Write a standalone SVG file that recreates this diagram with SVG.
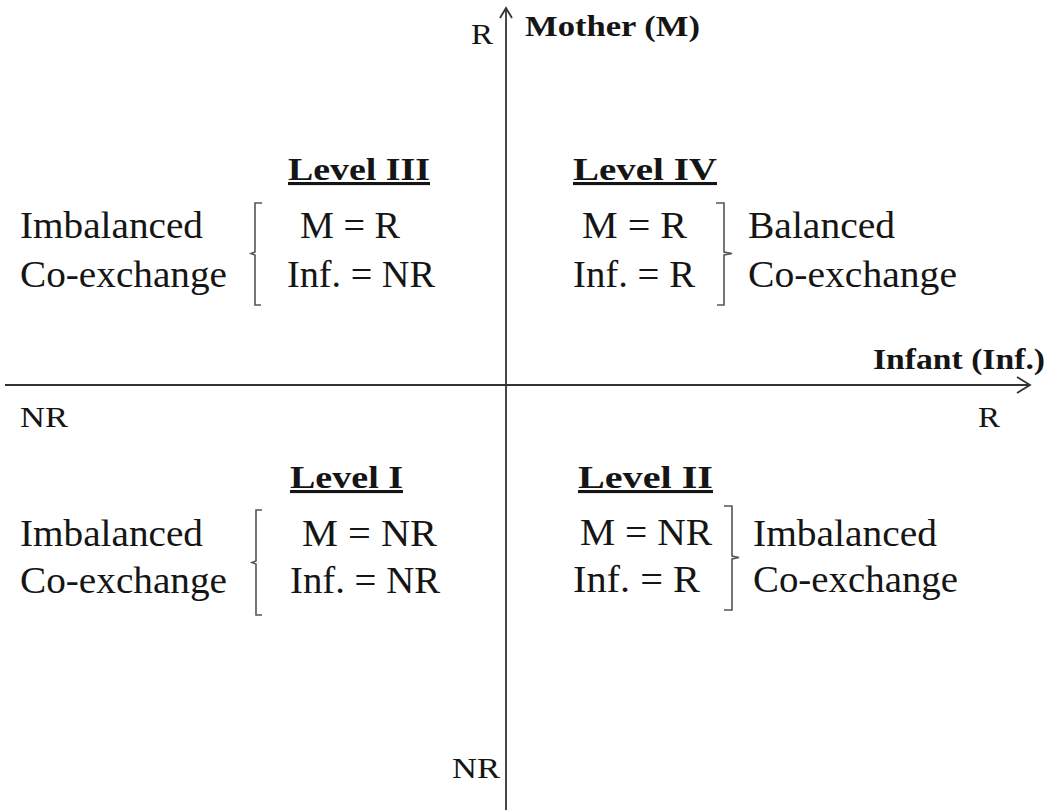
<svg xmlns="http://www.w3.org/2000/svg" width="1055" height="810" viewBox="0 0 1055 810">
<style>
text{font-family:"Liberation Serif","Times New Roman",serif;fill:#151515}
.t{font-size:37px}
.ax{font-size:30px}
.b{font-weight:bold}
.lv{font-size:31px;font-weight:bold;text-decoration:underline}
.axis{stroke:#333;stroke-width:1.8;fill:none}
.br{stroke:#555;stroke-width:1.6;fill:none}
</style>
<rect width="1055" height="810" fill="#fff"/>
<g id="connectors">
<line class="axis" x1="506" y1="8" x2="506" y2="810"/>
<polyline class="axis" points="500,18 506,8 512,18"/>
<line class="axis" x1="5" y1="385" x2="1030" y2="385"/>
<polyline class="axis" points="1017,377 1030,385 1017,393"/>
</g>
<g id="axis-labels">
<text class="ax" x="471" y="44" textLength="22" lengthAdjust="spacingAndGlyphs">R</text>
<text class="ax b" x="525" y="36" textLength="175" lengthAdjust="spacingAndGlyphs">Mother (M)</text>
<text class="ax b" x="873" y="369" textLength="172" lengthAdjust="spacingAndGlyphs">Infant (Inf.)</text>
<text class="ax" x="20" y="427" textLength="48" lengthAdjust="spacingAndGlyphs">NR</text>
<text class="ax" x="978" y="427" textLength="22" lengthAdjust="spacingAndGlyphs">R</text>
<text class="ax" x="452" y="778" textLength="48" lengthAdjust="spacingAndGlyphs">NR</text>
</g>
<g id="level3">
<text class="lv" x="288" y="180" textLength="142" lengthAdjust="spacingAndGlyphs">Level III</text>
<text class="t" x="20" y="238" textLength="183" lengthAdjust="spacingAndGlyphs">Imbalanced</text>
<text class="t" x="20" y="287" textLength="207" lengthAdjust="spacingAndGlyphs">Co-exchange</text>
<path class="br" d="M262,203 H255 V252 L251,253.5 L255,255 V305 H261"/>
<text class="t" x="300" y="238" textLength="100" lengthAdjust="spacingAndGlyphs">M = R</text>
<text class="t" x="287" y="287" textLength="148" lengthAdjust="spacingAndGlyphs">Inf. = NR</text>
</g>
<g id="level4">
<text class="lv" x="573" y="180" textLength="144" lengthAdjust="spacingAndGlyphs">Level IV</text>
<text class="t" x="582" y="238" textLength="105" lengthAdjust="spacingAndGlyphs">M = R</text>
<text class="t" x="573" y="287" textLength="122" lengthAdjust="spacingAndGlyphs">Inf. = R</text>
<path class="br" d="M716,203 H724 V252 L732,253.5 L724,255 V305 H717"/>
<text class="t" x="748" y="238" textLength="147" lengthAdjust="spacingAndGlyphs">Balanced</text>
<text class="t" x="748" y="287" textLength="209" lengthAdjust="spacingAndGlyphs">Co-exchange</text>
</g>
<g id="level1">
<text class="lv" x="290" y="488" textLength="113" lengthAdjust="spacingAndGlyphs">Level I</text>
<text class="t" x="20" y="546" textLength="183" lengthAdjust="spacingAndGlyphs">Imbalanced</text>
<text class="t" x="20" y="593" textLength="207" lengthAdjust="spacingAndGlyphs">Co-exchange</text>
<path class="br" d="M262,510 H256 V561 L252,562.5 L256,564 V615 H262"/>
<text class="t" x="302" y="546" textLength="135" lengthAdjust="spacingAndGlyphs">M = NR</text>
<text class="t" x="290" y="593" textLength="150" lengthAdjust="spacingAndGlyphs">Inf. = NR</text>
</g>
<g id="level2">
<text class="lv" x="578" y="488" textLength="135" lengthAdjust="spacingAndGlyphs">Level II</text>
<text class="t" x="580" y="545" textLength="132" lengthAdjust="spacingAndGlyphs">M = NR</text>
<text class="t" x="573" y="592" textLength="127" lengthAdjust="spacingAndGlyphs">Inf. = R</text>
<path class="br" d="M724,506 H732 V556 L739,557.5 L732,559 V610 H724"/>
<text class="t" x="753" y="546" textLength="184" lengthAdjust="spacingAndGlyphs">Imbalanced</text>
<text class="t" x="753" y="592" textLength="205" lengthAdjust="spacingAndGlyphs">Co-exchange</text>
</g>
</svg>
